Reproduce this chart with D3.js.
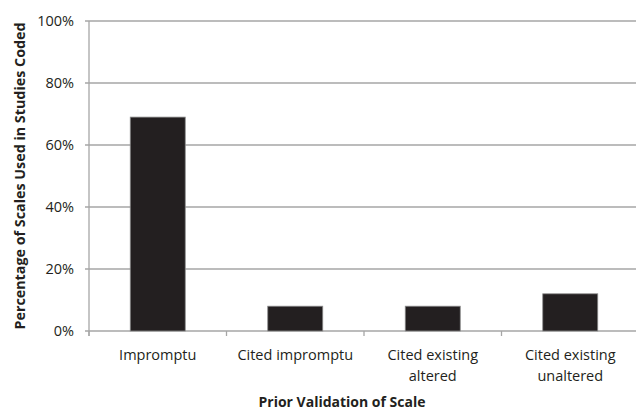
<!DOCTYPE html>
<html><head><meta charset="utf-8">
<script src="https://cdn.jsdelivr.net/npm/d3@7"></script>
<style>body{margin:0;background:#fff}svg{display:block}text{font-family:"Open Sans",sans-serif;fill:#231f20}</style>
</head><body><svg id="c" width="636" height="411"></svg>
<script>
const categories = [["Impromptu"],["Cited impromptu"],["Cited existing","altered"],["Cited existing","unaltered"]];
const values = [0.69, 0.08, 0.08, 0.12];
const yTicks = [0, 0.2, 0.4, 0.6, 0.8, 1.0];

const svg = d3.select("#c");
const pLeft = 89, pRight = 639, pTop = 21, pBottom = 331;
const x = d3.scaleBand().domain(d3.range(categories.length)).range([pLeft, pRight]).paddingInner(0.6).paddingOuter(0.3);
const y = d3.scaleLinear().domain([0, 1]).range([pBottom, pTop]);

// gridlines
svg.append("g").selectAll("line").data(yTicks).join("line")
  .attr("x1", pLeft - 4).attr("x2", pRight).attr("y1", d => y(d)).attr("y2", d => y(d))
  .attr("stroke", "#a6a6a6").attr("stroke-width", 1.3);
// y axis line
svg.append("line").attr("x1", pLeft).attr("x2", pLeft).attr("y1", pTop).attr("y2", pBottom + 5)
  .attr("stroke", "#a6a6a6").attr("stroke-width", 1.3);
// x ticks at band boundaries
const step = (pRight - pLeft) / categories.length;
svg.append("g").selectAll("line").data(d3.range(categories.length + 1)).join("line")
  .attr("x1", d => pLeft + d * step).attr("x2", d => pLeft + d * step)
  .attr("y1", pBottom).attr("y2", pBottom + 5).attr("stroke", "#a6a6a6").attr("stroke-width", 1.3);

// y tick labels
svg.append("g").selectAll("text").data(yTicks).join("text")
  .attr("x", 74).attr("y", d => y(d)).attr("dy", "0.36em").attr("text-anchor", "end")
  .style("font-size", "14.5px").text(d => d3.format(".0%")(d));

// bars
svg.append("g").selectAll("rect").data(values).join("rect")
  .attr("x", (d, i) => x(i)).attr("width", x.bandwidth())
  .attr("y", d => y(d)).attr("height", d => pBottom - y(d))
  .attr("fill", "#231f20").attr("stroke", "#8a8a8a").attr("stroke-width", 0.8);

// category labels
const cl = svg.append("g").selectAll("text").data(categories).join("text")
  .attr("text-anchor", "middle").style("font-size", "14.5px")
  .attr("transform", (d, i) => `translate(${pLeft + (i + 0.5) * step},0)`);
cl.selectAll("tspan").data(d => d).join("tspan")
  .attr("x", 0).attr("y", (d, j) => 360 + j * 21).text(d => d);

// axis titles
svg.append("text").attr("x", 342).attr("y", 407).attr("text-anchor", "middle")
  .style("font-size", "14px").style("font-weight", "bold").text("Prior Validation of Scale");
svg.append("text").attr("transform", "translate(25,176) rotate(-90)").attr("text-anchor", "middle")
  .style("font-size", "14.3px").style("font-weight", "bold").text("Percentage of Scales Used in Studies Coded");
</script></body></html>
